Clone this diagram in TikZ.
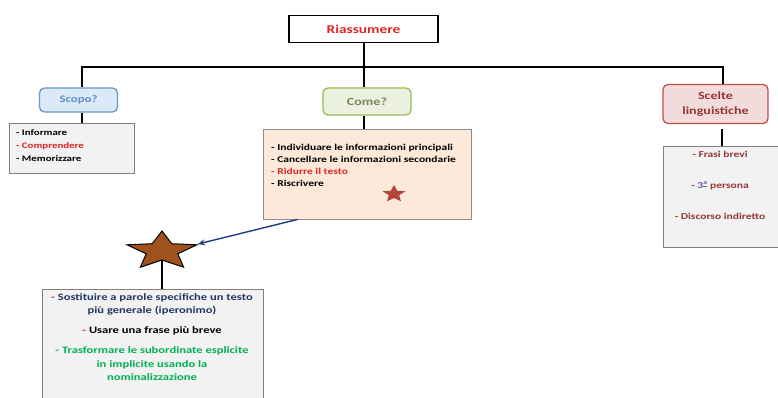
\documentclass[tikz,border=0pt]{standalone}
\usepackage{fontspec}
\setmainfont{Carlito}[FakeStretch=1.28]
\usetikzlibrary{arrows.meta}
\definecolor{scopoFill}{HTML}{DCE9F7}
\definecolor{scopoDraw}{HTML}{6E96C9}
\definecolor{scopoText}{HTML}{5B8DC8}
\definecolor{comeFill}{HTML}{EBF1DE}
\definecolor{comeDraw}{HTML}{9BBB59}
\definecolor{comeText}{HTML}{76875A}
\definecolor{sceltaFill}{HTML}{F2DCDB}
\definecolor{sceltaDraw}{HTML}{C0504D}
\definecolor{sceltaText}{HTML}{943634}
\definecolor{listFill}{HTML}{F2F2F2}
\definecolor{listDraw}{HTML}{7F7F7F}
\definecolor{peach}{HTML}{FDE9D9}
\definecolor{hred}{HTML}{E02424}
\definecolor{navy}{HTML}{1F3864}
\definecolor{hgreen}{HTML}{00B050}
\definecolor{starBrown}{HTML}{A0521D}
\definecolor{starRed}{HTML}{B5453A}
\definecolor{arrowBlue}{HTML}{1F3D7A}
\definecolor{ordBlue}{HTML}{6A5A9A}
\begin{document}
\begin{tikzpicture}[x=1pt,y=-1pt,
  tree/.style={line width=2pt,black},
  titlebox/.style={draw=black,line width=1.8pt,fill=white,minimum width=149pt,minimum height=27pt,inner sep=0pt,
    font=\bfseries\fontsize{12}{14}\selectfont,text=hred},
  catbox/.style={rounded corners=5pt,line width=1.3pt,inner sep=0pt,font=\bfseries\fontsize{11}{15}\selectfont,align=center},
  listbox/.style={draw=listDraw,line width=0.8pt,fill=listFill,inner sep=0pt},
  listtext/.style={inner sep=0pt,align=left,font=\bfseries\fontsize{9}{11.7}\selectfont},
  starline/.style={draw=black,line width=1pt,line join=miter}
]
\useasboundingbox (0,0) rectangle (778,398);

% title
\node[titlebox] (top) at (363.5,29) {Riassumere};

% tree junctions
\coordinate (jl) at (82,67.5);
\coordinate (jc) at (364,67.5);
\coordinate (jr) at (723,67.5);

% category boxes
\node[catbox,draw=scopoDraw,fill=scopoFill,text=scopoText,minimum width=78pt,minimum height=24pt,
  font=\bfseries\fontsize{10}{12}\selectfont] (scopo) at (78.5,100) {Scopo?};
\node[catbox,draw=comeDraw,fill=comeFill,text=comeText,minimum width=88pt,minimum height=27pt] (come) at (367,101.5) {Come?};
\node[catbox,draw=sceltaDraw,fill=sceltaFill,text=sceltaText,minimum width=105pt,minimum height=39pt] (scelte) at (715.5,104) {Scelte\\linguistiche};

% list boxes
\node[listbox,minimum width=125pt,minimum height=50pt] (scopolist) at (71.5,148) {};
\node[listbox,fill=peach,draw=listDraw!90,minimum width=208pt,minimum height=90pt] (comelist) at (367,174) {};
\node[listbox,minimum width=122pt,minimum height=101pt] (sceltelist) at (724,196.5) {};
\node[listbox,minimum width=221pt,minimum height=116pt] (bottomlist) at (152.5,347) {};

% tree connectors
\draw[tree] (top.south -| jc) -- (jc);
\draw[tree,line cap=rect] (jl) -- (jr);
\draw[tree] (jl) -- (jl |- scopo.north);
\draw[tree] (jc) -- (jc |- come.north);
\draw[tree] (jr) -- (jr |- scelte.north);
\draw[tree] (scopo.south -| jl) -- (scopolist.north -| jl);
\draw[tree] (come.south -| jc) -- (comelist.north -| jc);
\draw[tree] ([yshift=-5pt]scelte.south -| 722,0) -- (sceltelist.north -| 722,0);

% list texts
\node[listtext,anchor=north west,font=\bfseries\fontsize{8.5}{13}\selectfont] (scopotext) at (16,129.6)
  {- Informare\\\textcolor{hred}{- Comprendere}\\- Memorizzare};
\node[listtext,anchor=north west] (cometext) at (271,144.4)
  {- Individuare le informazioni principali\\- Cancellare le informazioni secondarie\\\textcolor{hred}{- Ridurre il testo}\\- Riscrivere};
\node[listtext,anchor=north,align=center,text=sceltaText,font=\bfseries\fontsize{9}{30.7}\selectfont] (sceltetext) at (720,151.4)
  {- Frasi brevi\\- \textcolor{ordBlue}{3\textsuperscript{\underline{a}}} persona\\- Discorso indiretto};
\node[listtext,anchor=north,align=center,font=\bfseries\fontsize{9.8}{13.5}\selectfont] (bottomtext) at (152,293)
  {\textcolor{hred}{-} \textcolor{navy}{Sostituire a parole specifiche un testo}\\
   \textcolor{navy}{più generale (iperonimo)}\\[6.5pt]
   \textcolor{hred}{-} Usare una frase più breve\\[6.5pt]
   \textcolor{hgreen}{- Trasformare le subordinate esplicite}\\
   \textcolor{hgreen}{in implicite usando la}\\
   \textcolor{hgreen}{nominalizzazione}};

% small star in the Come list
\begin{scope}[shift={(394,194)}]
  \fill[starRed] (-90:12 and 9) -- (-54:5.4 and 4.05) -- (-18:12 and 9) -- (18:5.4 and 4.05) -- (54:12 and 9)
    -- (90:5.4 and 4.05) -- (126:12 and 9) -- (162:5.4 and 4.05) -- (198:12 and 9) -- (234:5.4 and 4.05) -- cycle;
\end{scope}

% big star
\begin{scope}[shift={(162,251)}]
  \draw[starline,fill=starBrown] (-90:36.8 and 20) -- (-54:16.6 and 9) -- (-18:36.8 and 20) -- (18:16.6 and 9) -- (54:36.8 and 20)
    -- (90:16.6 and 9) -- (126:36.8 and 20) -- (162:16.6 and 9) -- (198:36.8 and 20) -- (234:16.6 and 9) -- cycle;
\end{scope}
\coordinate (starR) at (198,244);
\coordinate (starB) at (162,260);

% connectors to and from the star
\draw[arrowBlue,line width=1.4pt,-{Stealth[length=7pt,width=6pt]}] ([xshift=35pt]comelist.south west) -- (starR);
\draw[tree] (starB) -- (bottomlist.north -| starB);
\end{tikzpicture}
\end{document}
